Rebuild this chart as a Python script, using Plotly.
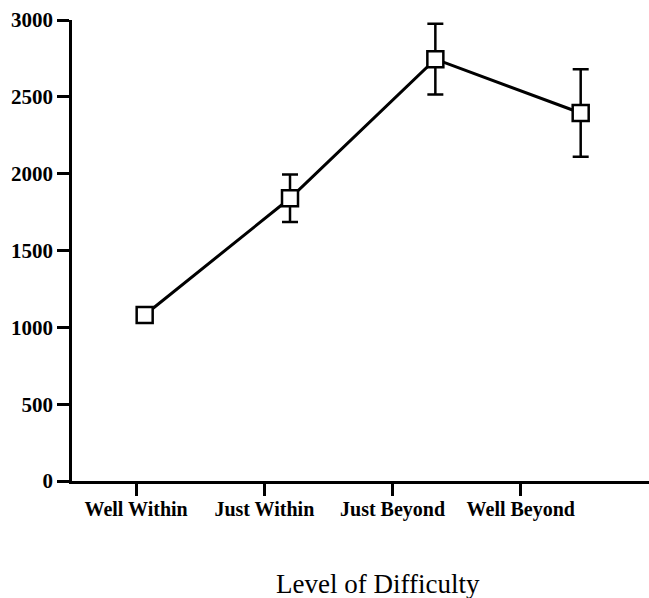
import plotly.graph_objects as go

categories = ["Well Within", "Just Within", "Just Beyond", "Well Beyond"]
means = [1080, 1840, 2745, 2395]
errors = [30, 155, 230, 285]
y_ticks = [0, 500, 1000, 1500, 2000, 2500, 3000]
x_title = "Level of Difficulty"

FONT = "Liberation Serif"

fig = go.Figure()
# invisible trace so the visible category axis is drawn
fig.add_trace(go.Scatter(
    x=list(range(len(categories))), y=[None] * len(categories),
    xaxis="x", yaxis="y", mode="markers", hoverinfo="skip",
    showlegend=False,
))
fig.add_trace(go.Scatter(
    x=categories, y=means, xaxis="x2", yaxis="y",
    mode="lines+markers",
    line=dict(color="black", width=3),
    marker=dict(symbol="square", size=16, color="white",
                line=dict(color="black", width=2.5)),
    error_y=dict(type="data", array=errors, visible=True,
                 color="black", thickness=2.5, width=8),
    showlegend=False,
))

fig.update_layout(
    width=649, height=598,
    margin=dict(l=72, r=0, t=20, b=117),
    paper_bgcolor="white", plot_bgcolor="white",
    font=dict(family=FONT, color="black", size=20),
    xaxis=dict(
        range=[-0.5, 4.0], tickmode="array",
        tickvals=list(range(len(categories))), ticktext=categories,
        showgrid=False, zeroline=False,
        showline=True, linecolor="black", linewidth=2.5,
        ticks="outside", ticklen=12, tickwidth=2.5, tickcolor="black",
        ticklabelstandoff=-4,
        tickfont=dict(family=FONT, size=20, color="black", weight="bold"),
    ),
    xaxis2=dict(
        type="category", range=[-0.5, 3.47],
        overlaying="x", anchor="y", visible=False,
    ),
    yaxis=dict(
        range=[0, 3000], tickmode="array", tickvals=y_ticks,
        showgrid=False, zeroline=False,
        showline=True, linecolor="black", linewidth=2.5,
        ticks="outside", ticklen=12, tickwidth=2.5, tickcolor="black",
        ticklabelstandoff=0,
        tickfont=dict(family=FONT, size=21, color="black", weight="bold"),
    ),
    annotations=[dict(
        text=x_title, xref="paper", yref="paper",
        x=0.53, y=-0.2234, xanchor="center", yanchor="middle",
        showarrow=False, font=dict(family=FONT, size=27, color="black"),
    )],
)

fig.write_html("out.html", config={"displayModeBar": False},
               post_script="document.body.style.margin='0';")
